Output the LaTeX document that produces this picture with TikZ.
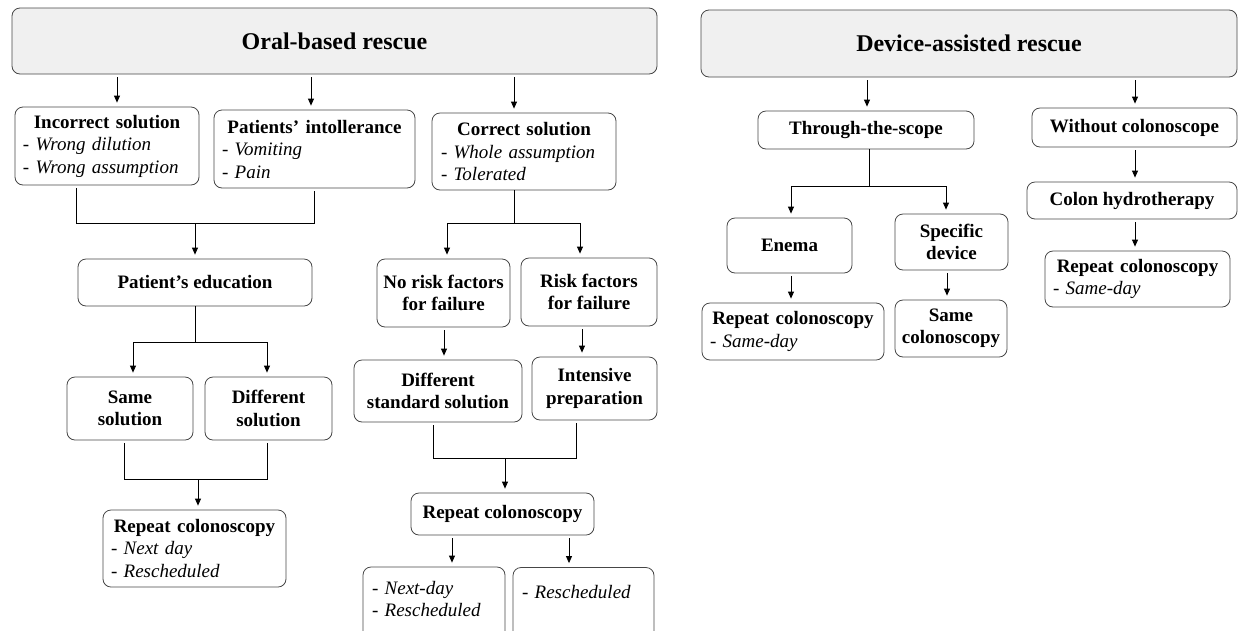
\documentclass[tikz,border=0pt]{standalone}
\usepackage{fontspec}
\setmainfont{Liberation Serif}
\usetikzlibrary{arrows.meta}
\definecolor{titlegray}{RGB}{240,240,240}
\definecolor{edgegray}{RGB}{70,70,70}
\newcommand\fs{\fontsize{19}{22.5}\selectfont}
\newcommand\ftitle{\fontsize{24}{28}\selectfont\bfseries}
\newcommand\hd[1]{\makebox[\hsize]{#1}}
\newcommand\li[1]{{\mdseries\itshape #1}}
\begin{document}
\begin{tikzpicture}[x=1pt,y=-1pt,
  bx/.style={draw=edgegray, line width=0.8pt, rounded corners=8pt, inner sep=0pt, align=center, font=\fs\bfseries},
  tbx/.style={bx, fill=titlegray, font=\ftitle},
  ln/.style={draw=black, line width=0.8pt},
  arr/.style={ln, -{Triangle[width=6pt,length=7pt]}, shorten >=4pt},
  sarr/.style={arr, shorten <=3pt},
  mline/.style={ln, shorten <=3pt, shorten >=3pt}]
\useasboundingbox (0,0) rectangle (1239,630);

% ---------- Oral-based rescue ----------
\node[tbx, minimum width=645, minimum height=66] (oral) at (334.5,41) {Oral-based rescue};

\node[bx, minimum width=184, minimum height=78, text width=168pt, align=left] (inc) at (107,146)
  {\hd{Incorrect solution}\\\li{- Wrong dilution}\\\li{- Wrong assumption}};
\node[bx, minimum width=201, minimum height=78, text width=185pt, align=left] (pat) at (314.5,149)
  {\hd{Patients' intollerance}\\\li{- Vomiting}\\\li{- Pain}};
\node[bx, minimum width=184, minimum height=77, text width=166pt, align=left] (cor) at (524,151.5)
  {\hd{Correct solution}\\\li{- Whole assumption}\\\li{- Tolerated}};

\node[bx, minimum width=234, minimum height=47] (edu) at (195,282.5) {Patient's education};
\node[bx, minimum width=126, minimum height=63] (same) at (130,408.5) {Same\\solution};
\node[bx, minimum width=127, minimum height=63] (diff) at (268.5,408.5) {Different\\solution};
\node[bx, minimum width=183, minimum height=77, text width=167pt, align=left] (rep1) at (194.5,548.5)
  {\hd{Repeat colonoscopy}\\\li{- Next day}\\\li{- Rescheduled}};

\node[bx, minimum width=133, minimum height=68] (norisk) at (443.5,293) {No risk factors\\for failure};
\node[bx, minimum width=136, minimum height=68] (risk) at (589,292) {Risk factors\\for failure};
\node[bx, minimum width=168, minimum height=62] (dstd) at (438,391) {Different\\standard solution};
\node[bx, minimum width=125, minimum height=63] (inten) at (594.5,388.5) {Intensive\\preparation};
\node[bx, minimum width=183, minimum height=42] (rep2) at (502.5,514) {Repeat colonoscopy};
\node[bx, minimum width=142, minimum height=78, text width=124pt, align=left] (nd) at (434,606)
  {\li{- Next-day}\\\li{- Rescheduled}\rule[-14pt]{0pt}{14pt}};
\node[bx, minimum width=141, minimum height=78, text width=123pt, align=left] (res) at (583.5,606.5)
  {\li{- Rescheduled}\rule[-30pt]{0pt}{30pt}};

% ---------- Device-assisted rescue ----------
\node[tbx, minimum width=536, minimum height=67] (dev) at (969,43.5) {Device-assisted rescue};
\node[bx, minimum width=216, minimum height=38] (tts) at (866,130) {Through-the-scope};
\node[bx, minimum width=205, minimum height=39] (wc) at (1134.5,127.5) {Without colonoscope};
\node[bx, minimum width=125, minimum height=55] (enema) at (789.5,245.5) {Enema};
\node[bx, minimum width=113, minimum height=56] (spec) at (951.5,242) {Specific\\device};
\node[bx, minimum width=182, minimum height=57, text width=166pt, align=left] (rep3) at (793,331.5)
  {\hd{Repeat colonoscopy}\\\li{- Same-day}};
\node[bx, minimum width=112, minimum height=57] (samec) at (951,328.5) {Same\\colonoscopy};
\node[bx, minimum width=210, minimum height=37] (hydro) at (1132,200.5) {Colon hydrotherapy};
\node[bx, minimum width=185, minimum height=56, text width=169pt, align=left] (rep4) at (1137.5,279)
  {\hd{Repeat colonoscopy}\\\li{- Same-day}};

% ---------- column / junction coordinates ----------
\coordinate (x117) at (117,0);
\coordinate (x311) at (311,0);
\coordinate (x514) at (514,0);
\coordinate (x76) at (76,0);
\coordinate (x314) at (314,0);
\coordinate (x133) at (133,0);
\coordinate (x267) at (267,0);
\coordinate (x124) at (124,0);
\coordinate (x447) at (447,0);
\coordinate (x580) at (580,0);
\coordinate (x444) at (444,0);
\coordinate (x582) at (582,0);
\coordinate (x433) at (433,0);
\coordinate (x576) at (576,0);
\coordinate (x452) at (452,0);
\coordinate (x569) at (569,0);
\coordinate (x867) at (867,0);
\coordinate (x1135) at (1135,0);
\coordinate (x791) at (791,0);
\coordinate (x946) at (946,0);
\coordinate (x947) at (947,0);
\coordinate (m1) at (195,223);
\coordinate (m2) at (195,342);
\coordinate (m3) at (198,479);
\coordinate (m4) at (514,223);
\coordinate (m5) at (505,458);
\coordinate (m6) at (869,186);

% ---------- connectors: oral ----------
\draw[sarr] (oral.south -| x117) -- (inc.north -| x117);
\draw[sarr] (oral.south -| x311) -- (pat.north -| x311);
\draw[sarr] (oral.south -| x514) -- (cor.north -| x514);

\draw[mline] (inc.south -| x76) -- (x76 |- m1) -- (x314 |- m1) -- (pat.south -| x314);
\draw[arr] (m1) -- (edu.north -| m1);

\draw[ln] (edu.south) -- (m2);
\draw[arr] (m2) -| (same.north -| x133);
\draw[arr] (m2) -| (diff.north -| x267);

\draw[mline] (same.south -| x124) -- (x124 |- m3) -- (x267 |- m3) -- (diff.south -| x267);
\draw[arr] (m3) -- (rep1.north -| m3);

\draw[ln] (cor.south -| m4) -- (m4);
\draw[arr] (m4) -| (norisk.north -| x447);
\draw[arr] (m4) -| (risk.north -| x580);

\draw[sarr] (norisk.south -| x444) -- (dstd.north -| x444);
\draw[sarr] (risk.south -| x582) -- (inten.north -| x582);

\draw[mline] (dstd.south -| x433) -- (x433 |- m5) -- (x576 |- m5) -- (inten.south -| x576);
\draw[arr] (m5) -- (rep2.north -| m5);

\draw[sarr] (rep2.south -| x452) -- (nd.north -| x452);
\draw[sarr] (rep2.south -| x569) -- (res.north -| x569);

% ---------- connectors: device ----------
\draw[sarr] (dev.south -| x867) -- (tts.north -| x867);
\draw[sarr] (dev.south -| x1135) -- (wc.north -| x1135);

\draw[ln] (tts.south -| m6) -- (m6);
\draw[arr] (m6) -| (enema.north -| x791);
\draw[arr] (m6) -| (spec.north -| x946);

\draw[sarr] (enema.south -| x791) -- (rep3.north -| x791);
\draw[sarr] (spec.south -| x947) -- (samec.north -| x947);
\draw[sarr] (wc.south -| x1135) -- (hydro.north -| x1135);
\draw[sarr] (hydro.south -| x1135) -- (rep4.north -| x1135);
\end{tikzpicture}
\end{document}
